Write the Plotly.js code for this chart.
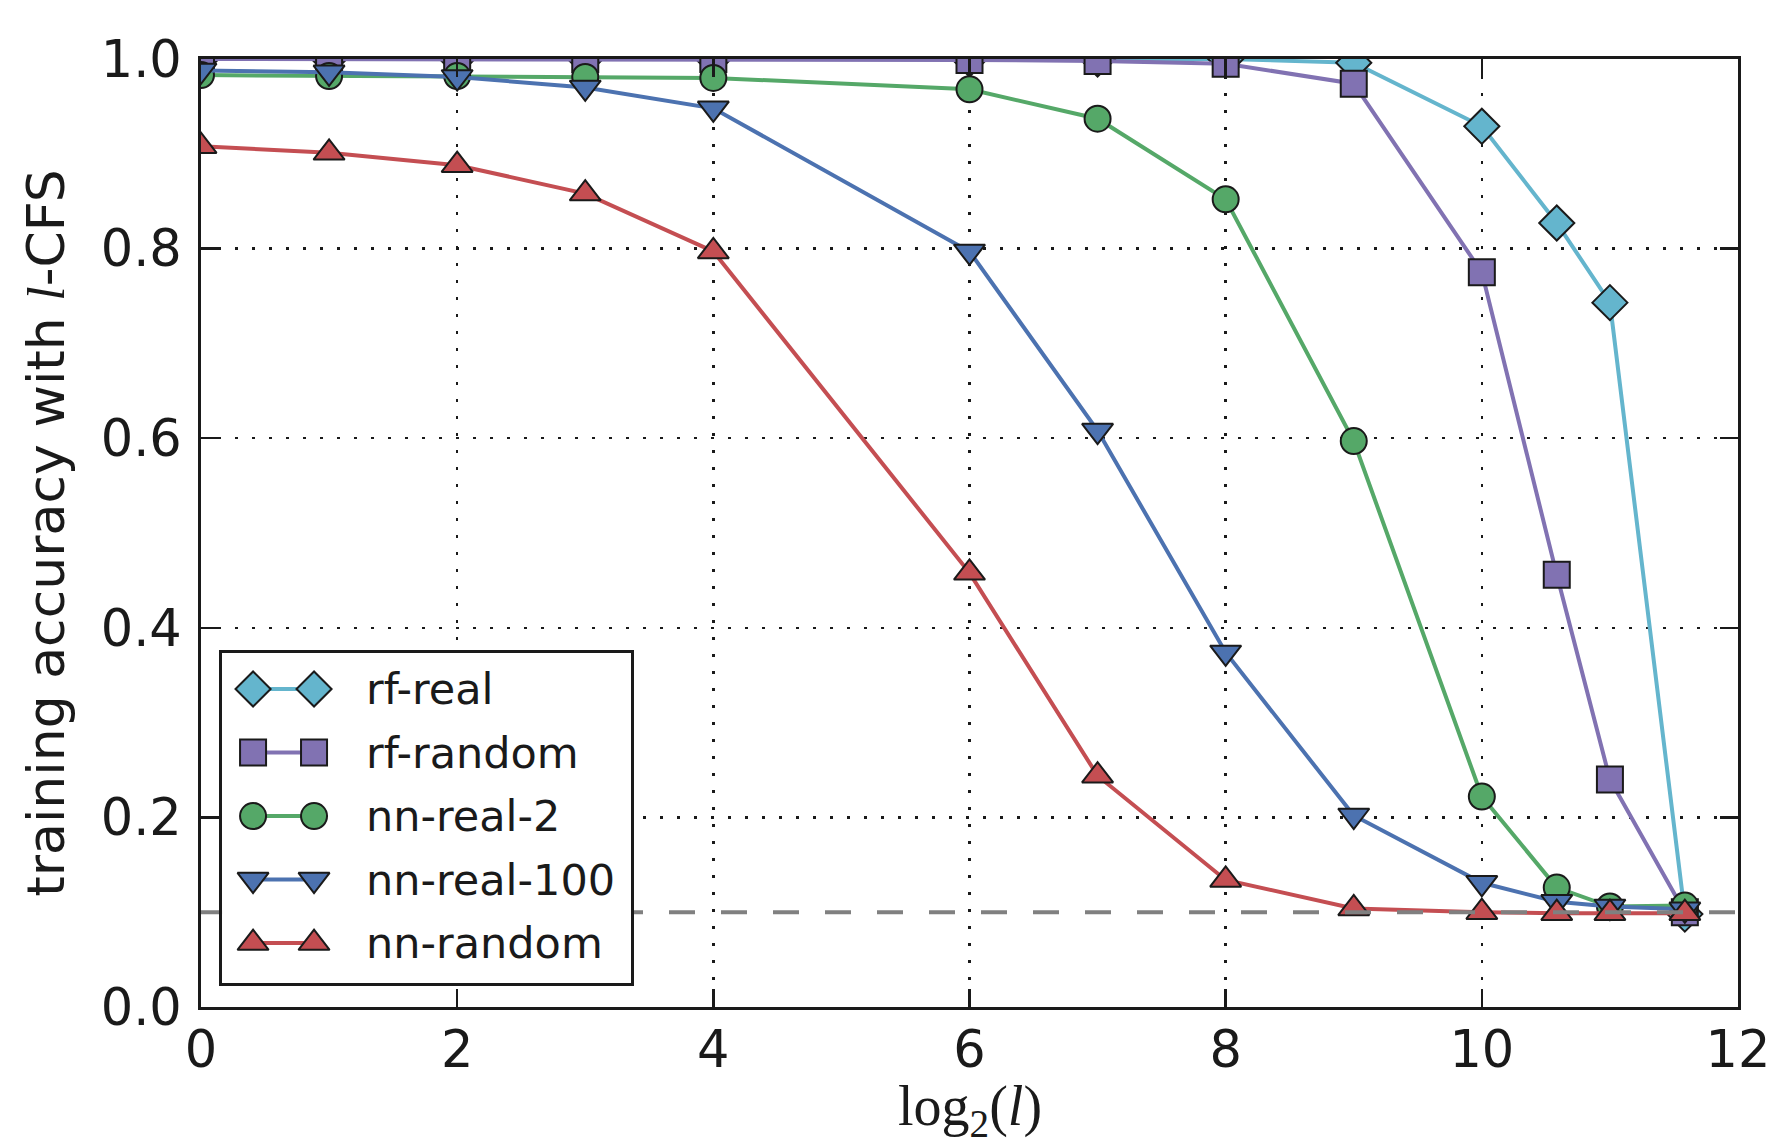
<!DOCTYPE html>
<html>
<head>
<meta charset="utf-8">
<script src="https://cdn.plot.ly/plotly-3.0.1.min.js"></script>
<style>html,body{margin:0;padding:0;background:#fff;}</style>
</head>
<body>
<div id="chart" style="width:1770px;height:1143px;"></div>
<script>
// ---- data ----
const xLog2 = [0, 1, 2, 3, 4, 6, 7, 8, 9, 10, 10.585, 11, 11.585];
const rfReal    = [1.000, 1.000, 1.000, 1.000, 1.000, 1.000, 1.000, 1.000, 0.996, 0.929, 0.827, 0.743, 0.098];
const rfRandom  = [1.000, 1.000, 1.000, 1.000, 1.000, 0.999, 0.998, 0.995, 0.974, 0.775, 0.456, 0.240, 0.100];
const nnReal2   = [0.983, 0.982, 0.982, 0.981, 0.980, 0.968, 0.937, 0.852, 0.597, 0.222, 0.126, 0.106, 0.107];
const nnReal100 = [0.988, 0.986, 0.981, 0.970, 0.948, 0.797, 0.608, 0.374, 0.202, 0.131, 0.111, 0.106, 0.103];
const nnRandom  = [0.908, 0.901, 0.888, 0.858, 0.797, 0.458, 0.244, 0.134, 0.104, 0.100, 0.099, 0.099, 0.099];
const seriesNames = ['rf-real', 'rf-random', 'nn-real-2', 'nn-real-100', 'nn-random'];
const chanceLevel = 0.1;
const xRange = [0, 12];
const yRange = [0, 1];
const xTickVals = [0, 2, 4, 6, 8, 10, 12];
const yTickVals = [0.0, 0.2, 0.4, 0.6, 0.8, 1.0];
const xTitle = 'log<sub>2</sub>(<i>l</i>)';
const yTitle = "training accuracy with <span style=\"font-family:'Liberation Serif';font-style:italic\">l</span>-CFS";

// ---- styles ----
const seriesValues = [rfReal, rfRandom, nnReal2, nnReal100, nnRandom];
const colors = ['#64B5CD', '#8172B2', '#55A868', '#4C72B0', '#C44E52'];
const symbols = ['diamond', 'square', 'circle', 'triangle-down', 'triangle-up'];
const sizes = [27, 26, 26, 27, 27];
const edge = '#1a1a1a';
const font = 'DejaVu Sans, sans-serif';

const traces = [];
seriesValues.forEach((vals, i) => {
  traces.push({
    x: xLog2, y: vals, name: seriesNames[i], type: 'scatter', mode: 'lines+markers',
    line: {color: colors[i], width: 4},
    marker: {symbol: symbols[i], size: sizes[i], color: colors[i], line: {color: edge, width: 2}},
    showlegend: false, hoverinfo: 'skip'
  });
});
// chance-level reference line across the axis range
traces.push({
  x: xRange, y: [chanceLevel, chanceLevel], type: 'scatter', mode: 'lines',
  line: {color: '#808080', width: 4, dash: '26px,26px'},
  showlegend: false, hoverinfo: 'skip'
});

// ---- custom legend (matplotlib style: two markers joined by a line) ----
const legendX = [0.0758, 0.2249];
const legendTextX = 0.347;
const annotations = [];
seriesNames.forEach((nm, i) => {
  const yy = 1 - (0.109 + i * 0.1925);
  traces.push({
    x: legendX, y: [yy, yy], xaxis: 'x2', yaxis: 'y2', type: 'scatter', mode: 'lines+markers',
    line: {color: colors[i], width: 4},
    marker: {symbol: symbols[i], size: sizes[i], color: colors[i], line: {color: edge, width: 2}},
    showlegend: false, hoverinfo: 'skip', cliponaxis: false
  });
  annotations.push({
    xref: 'x2', yref: 'y2', x: legendTextX, y: yy, text: nm, showarrow: false,
    xanchor: 'left', yanchor: 'middle', font: {family: font, size: 43, color: '#1a1a1a'}
  });
});
// x-axis title (placed lower than plotly's margin constraint allows, as in the reference)
annotations.push({
  xref: 'paper', yref: 'paper', x: 0.5, y: 0, xanchor: 'center', yanchor: 'middle',
  yshift: -103, text: xTitle, showarrow: false,
  font: {family: 'Liberation Serif, serif', size: 56, color: '#1a1a1a'}
});

const axisCommon = {
  showline: true, linecolor: '#1a1a1a', linewidth: 3, mirror: 'allticks',
  ticks: 'inside', ticklen: 18, tickwidth: 2.5, tickcolor: '#1a1a1a',
  showgrid: true, gridcolor: '#1a1a1a', gridwidth: 2.5, griddash: '3px,14px',
  zeroline: false, tickfont: {family: font, size: 51, color: '#1a1a1a'},
  ticklabeloverflow: 'allow', fixedrange: true
};

const layout = {
  width: 1770, height: 1143,
  margin: {l: 201, r: 32, t: 59, b: 136, pad: 0},
  paper_bgcolor: '#fff', plot_bgcolor: '#fff',
  showlegend: false,
  xaxis: Object.assign({}, axisCommon, {
    range: xRange, tickvals: xTickVals, ticktext: xTickVals.map(String),
    ticklabelstandoff: -4
  }),
  yaxis: Object.assign({}, axisCommon, {
    range: yRange, tickvals: yTickVals, ticktext: yTickVals.map(v => v.toFixed(1)),
    ticklabelstandoff: 6,
    title: {text: yTitle, font: {family: font, size: 52, color: '#1a1a1a'}, standoff: 20}
  }),
  xaxis2: {domain: [0.0137, 0.2798], range: [0, 1], anchor: 'y2', showline: true, mirror: true,
           linecolor: '#1a1a1a', linewidth: 3, showgrid: false, zeroline: false, ticks: '',
           showticklabels: false, fixedrange: true},
  yaxis2: {domain: [0.0253, 0.3734], range: [0, 1], anchor: 'x2', showline: true, mirror: true,
           linecolor: '#1a1a1a', linewidth: 3, showgrid: false, zeroline: false, ticks: '',
           showticklabels: false, fixedrange: true},
  annotations: annotations
};

Plotly.newPlot('chart', traces, layout, {displayModeBar: false, staticPlot: true});
</script>
</body>
</html>
